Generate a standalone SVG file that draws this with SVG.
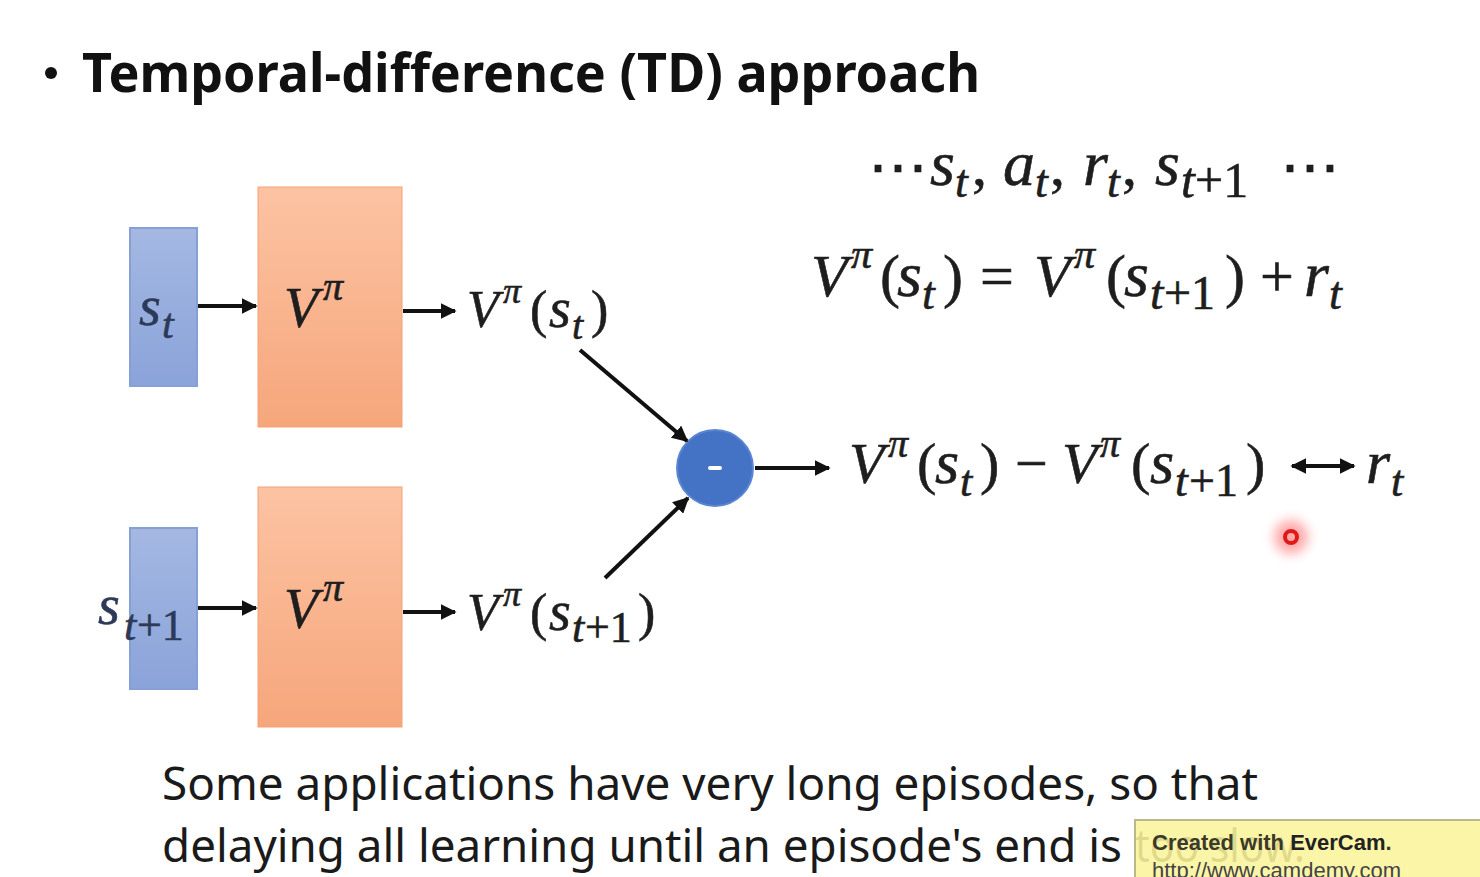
<svg xmlns="http://www.w3.org/2000/svg" width="1480" height="877" viewBox="0 0 1480 877">
  <defs>
    <linearGradient id="blueFill" x1="0" y1="0" x2="0" y2="1">
      <stop offset="0" stop-color="#a4b8e2"/>
      <stop offset="1" stop-color="#8aa3d9"/>
    </linearGradient>
    <linearGradient id="orangeFill" x1="0" y1="0" x2="0" y2="1">
      <stop offset="0" stop-color="#fcc3a3"/>
      <stop offset="1" stop-color="#f6a67b"/>
    </linearGradient>
    <marker id="head" viewBox="0 0 10 10" refX="9" refY="5" markerWidth="4" markerHeight="4" orient="auto-start-reverse" markerUnits="strokeWidth">
      <path d="M0,0 L10,5 L0,10 z" fill="#111"/>
    </marker>
    <filter id="glow" x="-1" y="-1" width="3" height="3">
      <feGaussianBlur stdDeviation="6"/>
    </filter>
  </defs>
  <style>
    .title { font-family: "Noto Sans", "Open Sans", sans-serif; font-weight: bold; font-size: 54px; fill: #111; }
    .body { font-family: "Noto Sans", "Open Sans", sans-serif; font-size: 45px; fill: #1a1a1a; }
    .m { font-family: "Liberation Serif", "DejaVu Serif", serif; font-style: italic; fill: #1e1e1e; stroke: #1e1e1e; stroke-width: 0.6; }
    .up { font-style: normal; }
    .inbox { fill: #2c3a58; stroke: #2c3a58; }
    .blue { fill: url(#blueFill); stroke: #86a0d6; stroke-width: 2; }
    .orange { fill: url(#orangeFill); stroke: #f3a277; stroke-width: 1; }
    .conn { stroke: #111; stroke-width: 4; fill: none; marker-end: url(#head); }
    .wm { font-family: "Liberation Sans", "DejaVu Sans", sans-serif; font-size: 22px; }
  </style>

  <rect width="1480" height="877" fill="#ffffff"/>

  <!-- heading -->
  <g id="heading">
    <circle cx="51" cy="73" r="6" fill="#111"/>
    <text class="title" x="82" y="92" textLength="898" lengthAdjust="spacingAndGlyphs">Temporal-difference (TD) approach</text>
  </g>

  <!-- input state s_t -->
  <g id="state-t">
    <rect class="blue" x="130" y="228" width="67" height="158"/>
    <text class="m inbox" font-size="56"><tspan x="139" y="325">s</tspan><tspan x="162" y="338" font-size="42">t</tspan></text>
  </g>

  <!-- value network for s_t -->
  <g id="value-net-t">
    <rect class="orange" x="258" y="187" width="144" height="240"/>
    <text class="m" font-size="56"><tspan x="284" y="327">V</tspan><tspan x="323" y="300" font-size="40">π</tspan></text>
  </g>

  <!-- input state s_{t+1} -->
  <g id="state-t1">
    <rect class="blue" x="130" y="528" width="67" height="161"/>
    <text class="m inbox" font-size="56"><tspan x="98" y="624">s</tspan><tspan x="124" y="640" font-size="44">t</tspan><tspan x="137" y="640" font-size="44" class="up">+1</tspan></text>
  </g>

  <!-- value network for s_{t+1} -->
  <g id="value-net-t1">
    <rect class="orange" x="258" y="487" width="144" height="240"/>
    <text class="m" font-size="56"><tspan x="284" y="628">V</tspan><tspan x="323" y="601" font-size="40">π</tspan></text>
  </g>

  <!-- output V(s_t) -->
  <g id="out-t">
    <text class="m" font-size="52"><tspan x="467" y="327">V</tspan><tspan x="503" y="303" font-size="36">π</tspan><tspan x="530" y="327" class="up">(</tspan><tspan x="549" y="327" font-size="56">s</tspan><tspan x="572" y="339" font-size="40">t</tspan><tspan x="591" y="327" class="up">)</tspan></text>
  </g>

  <!-- output V(s_{t+1}) -->
  <g id="out-t1">
    <text class="m" font-size="52"><tspan x="467" y="630">V</tspan><tspan x="503" y="606" font-size="36">π</tspan><tspan x="530" y="630" class="up">(</tspan><tspan x="549" y="630" font-size="56">s</tspan><tspan x="572" y="642" font-size="44">t</tspan><tspan x="585" y="642" font-size="44" class="up">+1</tspan><tspan x="638" y="630" class="up">)</tspan></text>
  </g>

  <!-- subtraction node -->
  <g id="minus">
    <circle cx="715" cy="468" r="38" fill="#4472c4" stroke="#5a86d2" stroke-width="2"/>
    <rect x="708" y="466" width="14" height="4" rx="2" fill="#ffffff"/>
  </g>

  <!-- difference compared with reward -->
  <g id="difference">
    <text class="m" font-size="58"><tspan x="849" y="483">V</tspan><tspan x="888" y="457" font-size="40">π</tspan><tspan x="917" y="483" class="up">(</tspan><tspan x="935" y="483" font-size="62">s</tspan><tspan x="960" y="496" font-size="44">t</tspan><tspan x="980" y="483" class="up">)</tspan><tspan x="1015" y="483" class="up">−</tspan><tspan x="1062" y="483">V</tspan><tspan x="1100" y="457" font-size="40">π</tspan><tspan x="1131" y="483" class="up">(</tspan><tspan x="1150" y="483" font-size="62">s</tspan><tspan x="1175" y="496" font-size="46">t</tspan><tspan x="1189" y="496" font-size="46" class="up">+1</tspan><tspan x="1246" y="483" class="up">)</tspan><tspan x="1366" y="483" font-size="62">r</tspan><tspan x="1391" y="496" font-size="44">t</tspan></text>
  </g>

  <!-- trajectory -->
  <g id="trajectory">
    <text class="m" font-size="60"><tspan x="868" y="188" class="up">⋯</tspan><tspan x="930" y="185" font-size="64">s</tspan><tspan x="955" y="197" font-size="46">t</tspan><tspan x="972" y="185" class="up">,</tspan><tspan x="1003" y="185" font-size="64">a</tspan><tspan x="1035" y="197" font-size="46">t</tspan><tspan x="1050" y="185" class="up">,</tspan><tspan x="1083" y="185" font-size="64">r</tspan><tspan x="1107" y="197" font-size="46">t</tspan><tspan x="1122" y="185" class="up">,</tspan><tspan x="1155" y="185" font-size="64">s</tspan><tspan x="1181" y="197" font-size="50">t</tspan><tspan x="1195" y="197" font-size="50" class="up">+1</tspan><tspan x="1280" y="188" class="up">⋯</tspan></text>
  </g>

  <!-- Bellman relation -->
  <g id="relation">
    <text class="m" font-size="60"><tspan x="811" y="296">V</tspan><tspan x="851" y="268" font-size="42">π</tspan><tspan x="880" y="296" class="up">(</tspan><tspan x="897" y="296" font-size="64">s</tspan><tspan x="922" y="309" font-size="46">t</tspan><tspan x="943" y="296" class="up">)</tspan><tspan x="980" y="296" class="up">=</tspan><tspan x="1034" y="296">V</tspan><tspan x="1074" y="268" font-size="42">π</tspan><tspan x="1106" y="296" class="up">(</tspan><tspan x="1124" y="296" font-size="64">s</tspan><tspan x="1150" y="309" font-size="48">t</tspan><tspan x="1164" y="309" font-size="48" class="up">+1</tspan><tspan x="1225" y="296" class="up">)</tspan><tspan x="1260" y="296" class="up">+</tspan><tspan x="1304" y="296" font-size="64">r</tspan><tspan x="1329" y="309" font-size="46">t</tspan></text>
  </g>

  <!-- connectors -->
  <g id="connectors">
    <line class="conn" x1="198" y1="306" x2="256" y2="306"/>
    <line class="conn" x1="403" y1="311" x2="455" y2="311"/>
    <line class="conn" x1="198" y1="608" x2="256" y2="608"/>
    <line class="conn" x1="403" y1="612" x2="455" y2="612"/>
    <line class="conn" x1="580" y1="350" x2="687" y2="441"/>
    <line class="conn" x1="605" y1="578" x2="688" y2="498"/>
    <line class="conn" x1="755" y1="468" x2="829" y2="468"/>
    <line class="conn" x1="1292" y1="466" x2="1354" y2="466" marker-start="url(#head)"/>
  </g>

  <!-- pointer -->
  <g id="pointer">
    <circle cx="1291" cy="537" r="17" fill="#ff4040" opacity="0.45" filter="url(#glow)"/>
    <circle cx="1291" cy="537" r="6" fill="none" stroke="#e01818" stroke-width="4"/>
  </g>

  <!-- note -->
  <g id="note">
    <text class="body" x="162" y="800" textLength="1096" lengthAdjust="spacingAndGlyphs">Some applications have very long episodes, so that</text>
    <text class="body" x="162" y="862" textLength="960" lengthAdjust="spacingAndGlyphs">delaying all learning until an episode's end is</text>
    <text class="body" x="1135" y="862" textLength="170" lengthAdjust="spacingAndGlyphs">too slow.</text>
  </g>

  <!-- recorder badge -->
  <g id="badge">
    <rect x="1135" y="820" width="350" height="62" fill="#fbf49c" fill-opacity="0.88" stroke="#bdb88c" stroke-width="2"/>
    <text class="wm" x="1152" y="850" font-weight="bold" fill="#3a3a2a">Created with <tspan fill="#222">EverCam</tspan>.</text>
    <text class="wm" x="1152" y="878" fill="#444">http://www.camdemy.com</text>
  </g>
</svg>
